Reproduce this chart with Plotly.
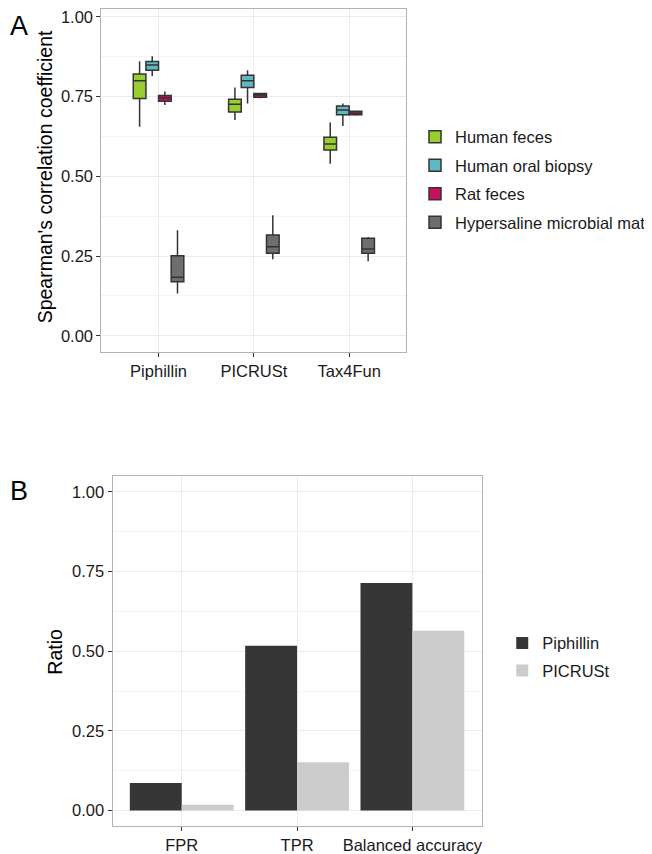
import plotly.graph_objects as go

# ---- Panel A data (box statistics) ----
methods = ["Piphillin", "PICRUSt", "Tax4Fun"]
sample_sets = ["Human feces", "Human oral biopsy", "Rat feces", "Hypersaline microbial mat"]
box_colors = ["#9acd2e", "#5fb8c4", "#c8105e", "#6d6e70"]

lower = {
    "Human feces": [0.656, 0.677, 0.540],
    "Human oral biopsy": [0.815, 0.729, 0.658],
    "Rat feces": [0.724, 0.745, 0.690],
    "Hypersaline microbial mat": [0.133, 0.240, 0.234],
}
q1 = {
    "Human feces": [0.744, 0.702, 0.583],
    "Human oral biopsy": [0.833, 0.779, 0.693],
    "Rat feces": [0.736, 0.748, 0.693],
    "Hypersaline microbial mat": [0.170, 0.259, 0.259],
}
median = {
    "Human feces": [0.800, 0.726, 0.602],
    "Human oral biopsy": [0.849, 0.800, 0.708],
    "Rat feces": [0.746, 0.755, 0.698],
    "Hypersaline microbial mat": [0.184, 0.279, 0.272],
}
q3 = {
    "Human feces": [0.821, 0.742, 0.623],
    "Human oral biopsy": [0.860, 0.817, 0.721],
    "Rat feces": [0.754, 0.760, 0.704],
    "Hypersaline microbial mat": [0.251, 0.316, 0.306],
}
upper = {
    "Human feces": [0.861, 0.779, 0.669],
    "Human oral biopsy": [0.877, 0.833, 0.729],
    "Rat feces": [0.766, 0.762, 0.706],
    "Hypersaline microbial mat": [0.331, 0.378, 0.310],
}

# ---- Panel B data ----
metrics = ["FPR", "TPR", "Balanced accuracy"]
tools = ["Piphillin", "PICRUSt"]
bar_colors = ["#363636", "#cccccc"]
ratio = {
    "Piphillin": [0.086, 0.517, 0.714],
    "PICRUSt": [0.018, 0.151, 0.564],
}

yticks = [0.0, 0.25, 0.5, 0.75, 1.0]
ytick_labels = ["0.00", "0.25", "0.50", "0.75", "1.00"]

# page has an 8px body margin; figure is sized to fit the window
OFF = 8
W, H = 652 - OFF, 854 - OFF

def px(sx):
    return (sx - OFF) / W

def py(sy):
    return 1 - (sy - OFF) / H

fig = go.Figure()

for i, s in enumerate(sample_sets):
    fig.add_trace(go.Box(
        x=methods, q1=q1[s], median=median[s], q3=q3[s],
        lowerfence=lower[s], upperfence=upper[s],
        name=s, fillcolor=box_colors[i],
        line=dict(color="#333333", width=1.5),
        whiskerwidth=0, boxpoints=False,
        xaxis="x", yaxis="y", legend="legend", legendgroup=s,
    ))

for i, t in enumerate(tools):
    fig.add_trace(go.Bar(
        x=metrics, y=ratio[t], name=t,
        marker=dict(color=bar_colors[i], line=dict(width=0)),
        xaxis="x2", yaxis="y2", legend="legend2", legendgroup=t,
    ))

FONT = "Liberation Sans, Arial, Helvetica, sans-serif"
TICK = 16.5
grid = "#ebebeb"
minor_grid = "#f5f5f5"
border = "#b3b3b3"

def yax(domain, anchor, rng):
    return dict(
        domain=domain, anchor=anchor, range=rng,
        tickvals=yticks, ticktext=ytick_labels,
        showgrid=True, gridcolor=grid, gridwidth=1, zeroline=False,
        minor=dict(tickvals=[0.125, 0.375, 0.625, 0.875], showgrid=True,
                   gridcolor=minor_grid, gridwidth=1, ticks=""),
        showline=True, linecolor=border, linewidth=1, mirror=True,
        ticks="outside", ticklen=4, tickcolor="#333333", tickwidth=1,
        tickfont=dict(size=TICK, color="#1a1a1a", family=FONT),
        ticklabeloverflow="allow",
        fixedrange=True,
    )

def xax(domain, anchor):
    return dict(
        domain=domain, anchor=anchor, type="category", range=[-0.6, 2.6],
        showgrid=True, gridcolor=grid, gridwidth=1,
        showline=True, linecolor=border, linewidth=1, mirror=True,
        ticks="outside", ticklen=4, tickcolor="#333333", tickwidth=1,
        tickfont=dict(size=TICK, color="#1a1a1a", family=FONT),
        ticklabeloverflow="allow",
        fixedrange=True,
    )

# panel A: value v at screen y = 336 - 320 v ; top of figure (screen 8) -> v = 1.025
yA_top_val = (336 - OFF) / 320.0

fig.update_layout(
    width=W, height=H, autosize=False,
    margin=dict(l=0, r=0, t=0, b=0),
    paper_bgcolor="white", plot_bgcolor="white",
    font=dict(family=FONT, color="#1a1a1a"),
    boxmode="group", boxgap=0.47, boxgroupgap=0.0,
    barmode="group", bargap=0.1, bargroupgap=0.0,
    xaxis=xax([px(101.5), px(407)], "y"),
    yaxis=yax([py(352), 1.0], "x", [-0.05, yA_top_val]),
    xaxis2=xax([px(112.7), px(482.3)], "y2"),
    yaxis2=yax([py(828.3), py(476.7)], "x2", [-0.05, 1.05]),
    legend=dict(x=1.0, y=py(119), xanchor="right", yanchor="top",
                font=dict(size=TICK, family=FONT, color="#1a1a1a"),
                tracegroupgap=4, bgcolor="rgba(0,0,0,0)"),
    legend2=dict(x=px(503), y=py(627), xanchor="left", yanchor="top",
                 font=dict(size=TICK, family=FONT, color="#1a1a1a"),
                 tracegroupgap=3, bgcolor="rgba(0,0,0,0)"),
    showlegend=True,
    annotations=[
        dict(text="A", x=0, y=1.0, xref="paper", yref="paper",
             xanchor="left", yanchor="top", showarrow=False,
             font=dict(size=27, family=FONT, color="#000000")),
        dict(text="B", x=0, y=py(492), xref="paper", yref="paper",
             xanchor="left", yanchor="middle", showarrow=False,
             font=dict(size=27, family=FONT, color="#000000")),
        dict(text="Spearman's correlation coefficient", x=px(45), y=py(176),
             xref="paper", yref="paper", xanchor="center", yanchor="middle",
             textangle=-90, showarrow=False,
             font=dict(size=19.5, family=FONT, color="#000000")),
        dict(text="Ratio", x=px(55), y=py(653),
             xref="paper", yref="paper", xanchor="center", yanchor="middle",
             textangle=-90, showarrow=False,
             font=dict(size=19.5, family=FONT, color="#000000")),
    ],
)

fig.write_html("out.html")
